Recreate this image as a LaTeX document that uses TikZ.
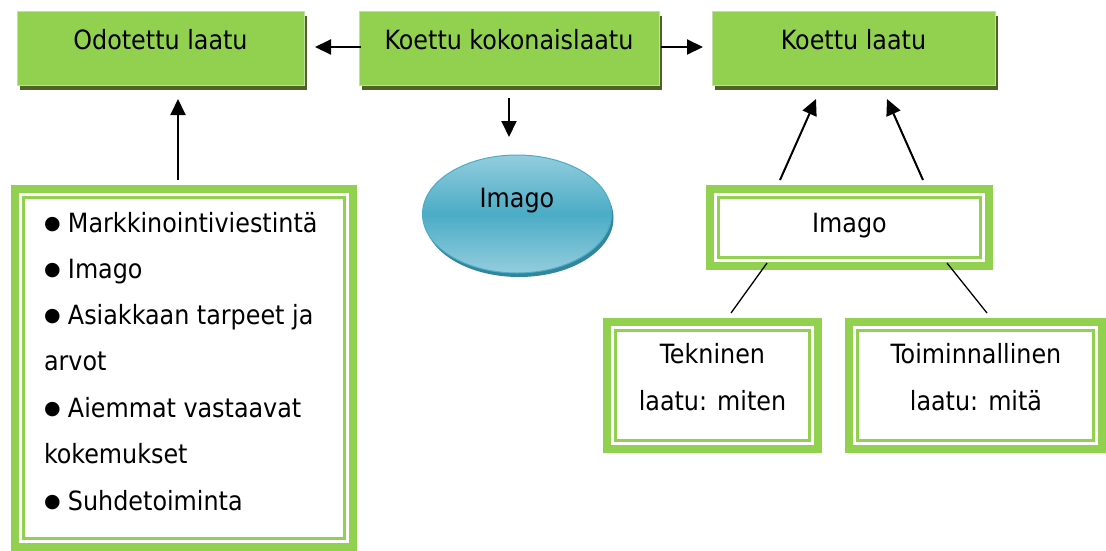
\documentclass[tikz,border=0pt]{standalone}
\usepackage{fontspec}
\setmainfont{DejaVu Sans Condensed}
\newfontfamily\bulfont{DejaVu Sans}
\usetikzlibrary{arrows.meta,shapes.geometric,shadows,calc}
\definecolor{grn}{HTML}{92D050}
\definecolor{grnedge}{HTML}{C3DEA0}
\definecolor{olive}{HTML}{4F6228}
\definecolor{tealL}{HTML}{93CDDD}
\definecolor{tealM}{HTML}{4BACC6}
\definecolor{tealD}{HTML}{31859C}
\newcommand\bul{\makebox[24pt][l]{\raisebox{3pt}{\bulfont\fontsize{19}{19}\selectfont ●}}}
\begin{document}
\begin{tikzpicture}[x=1pt,y=-1pt,
  every node/.style={inner sep=0pt, outer sep=0pt},
  bigfont/.style={font=\fontsize{26.5}{30}\selectfont},
  topbox/.style={rectangle, bigfont, fill=grn, draw=grnedge, line width=1pt,
    minimum height=74pt, text height=19pt, text depth=17pt,
    general shadow={fill=olive, shadow xshift=3pt, shadow yshift=-5pt}},
  dblbox/.style={rectangle, bigfont, draw=grn, line width=8pt, fill=white,
    path picture={\draw[grn, line width=2.7pt]
      ([shift={(8.35pt,-8.35pt)}]path picture bounding box.north west) rectangle
      ([shift={(-8.35pt,8.35pt)}]path picture bounding box.south east);}},
  ell/.style={ellipse, bigfont, minimum width=189pt, minimum height=118pt,
    top color=tealL, bottom color=tealL, middle color=tealM, draw=tealM, line width=1pt,
    text height=19pt, text depth=33pt,
    general shadow={fill=tealD, shadow xshift=2pt, shadow yshift=-4pt}},
  txt/.style={anchor=base, bigfont},
  ltxt/.style={anchor=base west, bigfont},
  arr/.style={line width=2pt, -{Triangle[length=16pt,width=15pt]}},
  thin/.style={line width=1.3pt}
]
\useasboundingbox (0,0) rectangle (1106,550);
% top row
\node[topbox, minimum width=287pt] (odo) at (160.5,48) {Odotettu laatu};
\node[topbox, minimum width=300pt] (kok) at (509,48) {Koettu kokonaislaatu};
\node[topbox, minimum width=283pt] (kl) at (853.5,48) {Koettu laatu};
% ellipse
\node[ell] (ell) at (517,214) {Imago};
% left list
\node[dblbox, minimum width=338pt, minimum height=358pt] (list) at (184,368) {};
\node[ltxt] (l1) at (44,232) {\bul Markkinointiviestintä};
\node[ltxt] (l2) at (44,278) {\bul Imago};
\node[ltxt] (l3) at (44,324) {\bul Asiakkaan tarpeet ja};
\node[ltxt] (l4) at (44,370) {arvot};
\node[ltxt] (l5) at (44,417) {\bul Aiemmat vastaavat};
\node[ltxt] (l6) at (44,463) {kokemukset};
\node[ltxt] (l7) at (44,510) {\bul Suhdetoiminta};
% right boxes
\node[dblbox, minimum width=279pt, minimum height=77pt, text height=19pt, text depth=10pt] (img) at (849.5,227.5) {Imago};
\node[dblbox, minimum width=211pt, minimum height=127pt] (tek) at (712.5,385.5) {};
\node[txt] (tek1) at (712.5,363) {Tekninen};
\node[txt] (tek2) at (712.5,410) {laatu: miten};
\node[dblbox, minimum width=253pt, minimum height=127pt] (toi) at (975.5,385.5) {};
\node[txt] (toi1) at (976,363) {Toiminnallinen};
\node[txt] (toi2) at (976,410) {laatu: mitä};
% connectors
\draw[arr, shorten <=-2pt, shorten >=11pt] ([yshift=1pt]kok.west) -- ([yshift=1pt]odo.east);
\draw[arr, shorten <=2pt, shorten >=9pt] ([yshift=1pt]kok.east) -- ([yshift=1pt]kl.west);
\draw[arr, shorten <=13pt, shorten >=18pt] (kok.south) -- (kok.south |- ell.north);
\draw[arr] ($(list.north west)+(163,-9)$) -- ($(odo.south west)+(161,14)$);
\draw[arr] ($(img.north west)+(70,-9)$) -- ($(kl.south west)+(104,14)$);
\draw[arr] ($(img.north west)+(213,-9)$) -- ($(kl.south west)+(175,14)$);
\draw[thin] ($(img.south west)+(57,-3)$) -- ($(tek.north west)+(124,-9)$);
\draw[thin] ($(img.south west)+(237,-3)$) -- ($(toi.north west)+(138,-9)$);
\end{tikzpicture}
\end{document}
